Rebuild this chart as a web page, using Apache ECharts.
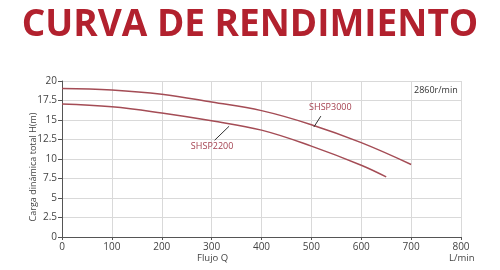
<!DOCTYPE html>
<html>
<head>
<meta charset="utf-8">
<script src="https://cdn.jsdelivr.net/npm/echarts@6/dist/echarts.min.js"></script>
<style>
html,body{margin:0;padding:0;background:#fff;}
#c{width:500px;height:270px;}
</style>
</head>
<body>
<div id="c"></div>
<script>
const flow3000 = [0, 100, 200, 300, 400, 500, 600, 700];
const head3000 = [19.05, 18.85, 18.3, 17.3, 16.2, 14.4, 12.1, 9.3];
const flow2200 = [0, 100, 200, 300, 400, 500, 600, 650];
const head2200 = [17.05, 16.7, 15.9, 14.9, 13.7, 11.65, 9.2, 7.7];
const titleText = 'CURVA DE RENDIMIENTO';
const yName = 'Carga dinámica total H(m)';
const xName = 'Flujo Q';
const xUnit = 'L/min';
const speedText = '2860r/min';

const lineColor = '#a44c55';
const labelColor = '#a4404f';

function pairs(xs, ys){ return xs.map((x,i)=>[x, ys[i]]); }

const chart = echarts.init(document.getElementById('c'), null, {renderer:'canvas'});
chart.setOption({
  animation:false,
  backgroundColor:'#ffffff',
  title:{
    text:titleText,
    left:'center',
    top:2,
    textStyle:{fontFamily:'Open Sans', fontWeight:'bold', fontSize:37, color:'#b2212e'}
  },
  grid:{left:62, right:39, top:81, bottom:33},
  xAxis:{
    type:'value', min:0, max:800, interval:100,
    axisLine:{show:true, lineStyle:{color:'#555', width:1}},
    axisTick:{show:true, length:3, lineStyle:{color:'#555'}},
    axisLabel:{color:'#444', fontSize:10, fontFamily:'Open Sans', margin:5},
    splitLine:{show:true, lineStyle:{color:'#d9d9d9', width:1}}
  },
  yAxis:{
    type:'value', min:0, max:20, interval:2.5,
    axisLine:{show:true, lineStyle:{color:'#555', width:1}},
    axisTick:{show:true, length:4, lineStyle:{color:'#555'}},
    axisLabel:{color:'#444', fontSize:10, fontFamily:'Open Sans', margin:5},
    splitLine:{show:true, lineStyle:{color:'#d9d9d9', width:1}}
  },
  series:[
    {
      name:'SHSP3000', type:'line', smooth:0.4, symbol:'none',
      lineStyle:{color:lineColor, width:1.5},
      data:pairs(flow3000, head3000),
      markLine:{
        silent:true, symbol:'none', label:{show:false},
        lineStyle:{color:'#333', width:1, type:'solid'},
        data:[[{coord:[505,14.1]},{coord:[519,15.5]}]]
      },
      markPoint:{
        symbol:'circle', symbolSize:0,
        label:{show:true, formatter:'SHSP3000', color:labelColor, fontSize:9, fontFamily:'Open Sans', position:'inside'},
        data:[{coord:[538,16.55]}]
      }
    },
    {
      name:'SHSP2200', type:'line', smooth:0.4, symbol:'none',
      lineStyle:{color:lineColor, width:1.5},
      data:pairs(flow2200, head2200),
      markLine:{
        silent:true, symbol:'none', label:{show:false},
        lineStyle:{color:'#333', width:1, type:'solid'},
        data:[[{coord:[335,14.2]},{coord:[306,12.4]}]]
      },
      markPoint:{
        symbol:'circle', symbolSize:0,
        label:{show:true, formatter:'SHSP2200', color:labelColor, fontSize:9, fontFamily:'Open Sans', position:'inside'},
        data:[{coord:[301,11.65]}]
      }
    }
  ],
  graphic:[
    {type:'text', left:197, top:253, style:{text:xName, fill:'#444', font:'9.5px "Open Sans"'}},
    {type:'text', left:449, top:253, style:{text:xUnit, fill:'#444', font:'9.5px "Open Sans"'}},
    {type:'text', left:414, top:86, style:{text:speedText, fill:'#333', font:'9px "Open Sans"'}},
    {type:'text', x:33, y:167, rotation:Math.PI/2,
     style:{text:yName, fill:'#444', font:'9px "Open Sans"', align:'center', verticalAlign:'middle'}}
  ]
});
</script>
</body>
</html>
